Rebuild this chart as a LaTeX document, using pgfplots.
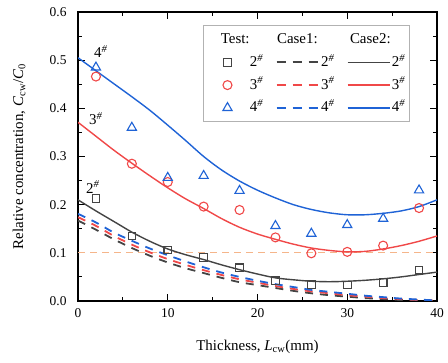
\documentclass[border=0pt]{standalone}
\usepackage{fontspec}
\setmainfont{Liberation Serif}
\usepackage{pgfplots}
\pgfplotsset{compat=1.18}
\definecolor{cgray}{HTML}{444444}
\definecolor{cred}{HTML}{F04848}
\definecolor{cblue}{HTML}{1F63D6}
\definecolor{corange}{HTML}{F5B58A}
\newcommand{\sh}{\textsuperscript{\textit{\#}}}
\begin{document}
\begin{tikzpicture}
\begin{axis}[name=ax, scale only axis, width=359bp, height=289bp,
  xmin=0, xmax=40, ymin=0, ymax=0.6,
  xtick={0,10,20,30,40}, ytick={0,0.1,0.2,0.3,0.4,0.5,0.6},
  minor x tick num=1, minor y tick num=1,
  tick align=inside, major tick length=7bp, minor tick length=4bp,
  axis line style={line width=1.3bp},
  every tick/.style={black, line width=1.1bp},
  tick label style={font=\fontsize{13.5}{16}\selectfont},
  /pgf/number format/assume math mode=true,
  yticklabel style={xshift=-8bp, /pgf/number format/.cd, fixed, fixed zerofill, precision=1},
  xticklabel style={yshift=-4bp},
  xlabel style={at={(axis description cs:0.5,-0.159)}, anchor=center, font=\fontsize{15}{18}\selectfont},
  ylabel style={at={(axis description cs:-0.164,0.5)}, anchor=center, rotate=0, font=\fontsize{15}{18}\selectfont},
  xlabel={Thickness, \textit{L}\textsubscript{cw}(mm)},
  ylabel={Relative concentration, \textit{C}\textsubscript{cw}/\textit{C}\textsubscript{0}},
  legend columns=3,
  legend cell align=left,
  legend style={at={(0.925,0.954)}, anchor=north east, draw=gray!60, line width=0.6bp,
    fill=white, font=\fontsize{15}{18}\selectfont, inner xsep=3bp, inner ysep=2.5bp,
    nodes={inner xsep=1.5bp, inner ysep=4.4bp, text height=11bp, text depth=3bp},
    /tikz/every even column/.append style={column sep=11bp}},
  legend image code/.code={\path[draw=none,fill=none] (0bp,0bp) -- (42bp,0bp); \draw[mark repeat=2,mark phase=2,#1] plot coordinates {(0bp,0bp)(21bp,0bp)(42bp,0bp)};},
]
% legend
\addlegendimage{legend image code/.code={\path[draw=none,fill=none] (0bp,0bp) -- (42bp,0bp); \node[overlay,anchor=west,inner sep=0pt,text height=11bp,text depth=3bp] at (14bp,0bp) {Test:};}}
\addlegendimage{legend image code/.code={\path[draw=none,fill=none] (0bp,0bp) -- (42bp,0bp); \node[overlay,anchor=west,inner sep=0pt,text height=11bp,text depth=3bp] at (0bp,0bp) {Case1:};}}
\addlegendimage{legend image code/.code={\path[draw=none,fill=none] (0bp,0bp) -- (42bp,0bp); \node[overlay,anchor=west,inner sep=0pt,text height=11bp,text depth=3bp] at (2bp,0bp) {Case2:};}}
\addlegendimage{only marks, mark=square, mark size=3.8bp, cgray, line width=1.1bp}
\addlegendimage{cgray, line width=1.8bp, dash pattern=on 9bp off 7bp}
\addlegendimage{cgray, line width=1.4bp}
\addlegendimage{only marks, mark=o, mark size=4.5bp, cred, line width=1.1bp}
\addlegendimage{cred, line width=1.8bp, dash pattern=on 9bp off 7bp}
\addlegendimage{cred, line width=1.4bp}
\addlegendimage{only marks, mark=triangle, mark size=5.3bp, cblue, line width=1.1bp}
\addlegendimage{cblue, line width=1.8bp, dash pattern=on 9bp off 7bp}
\addlegendimage{cblue, line width=1.4bp}
\legend{\mbox{},\mbox{},\mbox{},2\sh,2\sh,2\sh,3\sh,3\sh,3\sh,4\sh,4\sh,4\sh}

% reference line
\addplot[forget plot, corange, line width=1.2bp, dash pattern=on 7bp off 5bp] coordinates {(0,0.1)(40,0.1)};

% Case1 dashed
\addplot[forget plot, cgray, line width=1.8bp, dash pattern=on 8bp off 7bp, smooth] coordinates {
(0,0.167)(2,0.148)(4,0.128)(6,0.110)(8,0.094)(10,0.080)(12,0.068)(14,0.058)(16,0.048)(18,0.039)(20,0.033)(22,0.027)(24,0.021)(26,0.016)(28,0.012)(30,0.009)(32,0.006)(34,0.004)(36,0.002)(38,0.001)(40,0.000)};
\addplot[forget plot, cred, line width=1.8bp, dash pattern=on 8bp off 7bp, smooth] coordinates {
(0,0.174)(2,0.156)(4,0.135)(6,0.117)(8,0.101)(10,0.087)(12,0.075)(14,0.064)(16,0.054)(18,0.045)(20,0.038)(22,0.031)(24,0.025)(26,0.020)(28,0.016)(30,0.012)(32,0.009)(34,0.006)(36,0.004)(38,0.002)(40,0.001)};
\addplot[forget plot, cblue, line width=1.8bp, dash pattern=on 8bp off 7bp, smooth] coordinates {
(0,0.181)(2,0.163)(4,0.142)(6,0.125)(8,0.109)(10,0.095)(12,0.082)(14,0.070)(16,0.059)(18,0.050)(20,0.042)(22,0.035)(24,0.029)(26,0.023)(28,0.019)(30,0.015)(32,0.011)(34,0.008)(36,0.005)(38,0.003)(40,0.001)};

% Case2 solid
\addplot[forget plot, cgray, line width=1.4bp, smooth] coordinates {
(0,0.210)(2,0.187)(4,0.165)(6,0.143)(8,0.124)(10,0.108)(12,0.096)(14,0.086)(16,0.075)(18,0.065)(20,0.056)(22,0.048)(24,0.044)(26,0.041)(28,0.040)(30,0.041)(32,0.043)(34,0.046)(36,0.050)(38,0.055)(40,0.060)};
\addplot[forget plot, cred, line width=1.4bp, smooth] coordinates {
(0,0.371)(2,0.342)(4,0.313)(6,0.286)(8,0.260)(10,0.235)(12,0.212)(14,0.192)(16,0.171)(18,0.153)(20,0.139)(22,0.128)(24,0.118)(26,0.110)(28,0.105)(30,0.102)(32,0.103)(34,0.108)(36,0.115)(38,0.124)(40,0.135)};
\addplot[forget plot, cblue, line width=1.4bp, smooth] coordinates {
(0,0.505)(2,0.478)(4,0.451)(6,0.424)(8,0.396)(10,0.365)(12,0.333)(14,0.300)(16,0.272)(18,0.249)(20,0.230)(22,0.214)(24,0.200)(26,0.190)(28,0.183)(30,0.179)(32,0.179)(34,0.182)(36,0.187)(38,0.196)(40,0.210)};

% Test points
\addplot[forget plot, only marks, mark=square, mark size=3.8bp, cgray, line width=1.1bp] coordinates {
(2,0.213)(6,0.135)(10,0.106)(14,0.090)(18,0.069)(22,0.042)(26,0.034)(30,0.033)(34,0.038)(38,0.064)};
\addplot[forget plot, only marks, mark=o, mark size=4.5bp, cred, line width=1.1bp] coordinates {
(2,0.466)(6,0.285)(10,0.247)(14,0.196)(18,0.189)(22,0.132)(26,0.099)(30,0.102)(34,0.115)(38,0.193)};
\addplot[forget plot, only marks, mark=triangle, mark size=5.3bp, cblue, line width=1.1bp] coordinates {
(2,0.485)(6,0.360)(10,0.256)(14,0.260)(18,0.229)(22,0.156)(26,0.140)(30,0.158)(34,0.171)(38,0.230)};

\node[anchor=base west, inner sep=0pt, font=\fontsize{15}{18}\selectfont] at (axis cs:1.78,0.506) {4\sh};
\node[anchor=base west, inner sep=0pt, font=\fontsize{15}{18}\selectfont] at (axis cs:1.23,0.366) {3\sh};
\node[anchor=base west, inner sep=0pt, font=\fontsize{15}{18}\selectfont] at (axis cs:0.89,0.224) {2\sh};
\end{axis}
\pgfresetboundingbox
\path ([shift={(-78bp,-62bp)}]ax.south west) rectangle ([shift={(11bp,12bp)}]ax.north east);
\end{tikzpicture}
\end{document}
